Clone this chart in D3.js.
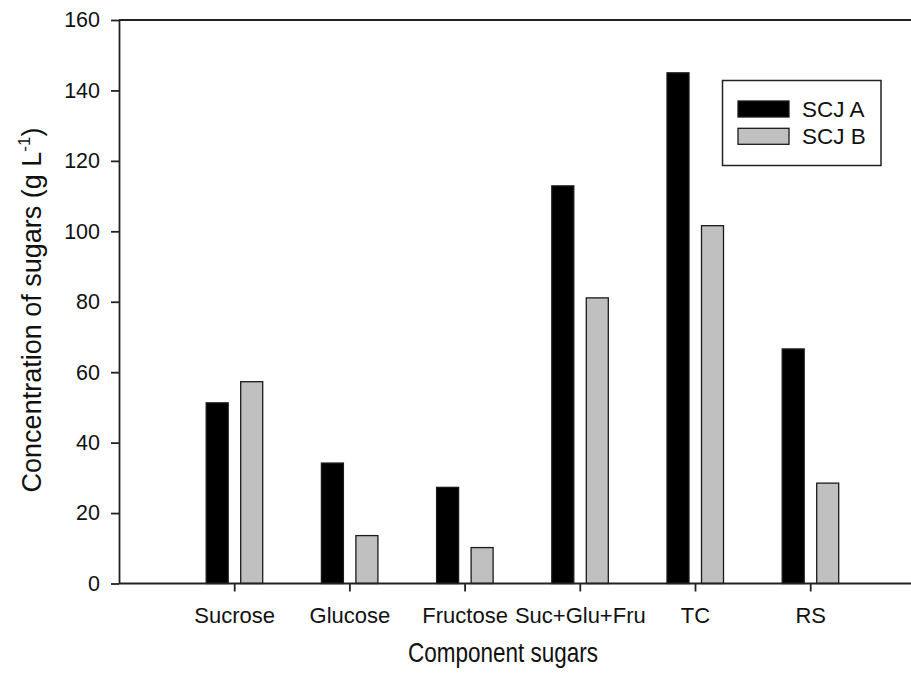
<!DOCTYPE html>
<html>
<head>
<meta charset="utf-8">
<script src="https://cdn.jsdelivr.net/npm/d3@7"></script>
<style>
  html, body { margin: 0; padding: 0; background: #fff; }
  svg { display: block; }
  text { font-family: "Liberation Sans", Arial, sans-serif; fill: #111; }
</style>
</head>
<body>
<svg id="chart" width="911" height="676"></svg>
<script>
const categories = ["Sucrose", "Glucose", "Fructose", "Suc+Glu+Fru", "TC", "RS"];
const seriesNames = ["SCJ A", "SCJ B"];
const scjA = [51.3, 34.2, 27.3, 112.9, 145.0, 66.6];
const scjB = [57.3, 13.6, 10.2, 81.1, 101.6, 28.5];
const yTicks = [0, 20, 40, 60, 80, 100, 120, 140, 160];
const colors = ["#000000", "#c0c0c0"];

(function () {
const svg = d3.select("#chart");
const mLeft = 119, mRight = 911, mTop = 20, mBottom = 583.5;
const step = 115.2;

const x = d3.scalePoint().domain(categories).range([mLeft + step, mLeft + step * 6]);
const y = d3.scaleLinear().domain([0, 160]).range([mBottom, mTop]);

const lineColor = "#222";
const fontFam = "Liberation Sans, Arial, sans-serif";

// bars
const offsets = [-17, 17.5];
const barW = 22;
const series = [scjA, scjB];
series.forEach((vals, si) => {
  svg.append("g").selectAll("rect").data(vals).join("rect")
    .attr("x", (d, i) => x(categories[i]) + offsets[si] - barW / 2)
    .attr("y", d => y(d))
    .attr("width", barW)
    .attr("height", d => y(0) - y(d))
    .attr("fill", colors[si])
    .attr("stroke", "#1a1a1a")
    .attr("stroke-width", 1.3);
});

// top frame line
svg.append("line").attr("x1", mLeft).attr("x2", mRight).attr("y1", y(160)).attr("y2", y(160))
  .attr("stroke", lineColor).attr("stroke-width", 1.8);

// y axis
const gy = svg.append("g").attr("transform", `translate(${mLeft},0)`)
  .call(d3.axisLeft(y).tickValues(yTicks).tickSize(8).tickSizeOuter(0).tickPadding(11));
gy.selectAll("path, line").attr("stroke", lineColor).attr("stroke-width", 1.8);
gy.selectAll("text").attr("font-size", 21.5).attr("font-family", fontFam).attr("fill", "#111");

// x axis
const gx = svg.append("g").attr("transform", `translate(0,${mBottom})`)
  .call(d3.axisBottom(x).tickSize(8).tickSizeOuter(0).tickPadding(16));
gx.select(".domain").attr("d", `M${mLeft},0H${mRight}`);
gx.selectAll("path, line").attr("stroke", lineColor).attr("stroke-width", 1.8);
gx.selectAll("text").attr("font-size", 22).attr("font-family", fontFam).attr("fill", "#111");

// axis titles
svg.append("text").attr("transform", "translate(503,662) scale(1,1.22)")
  .attr("text-anchor", "middle").attr("font-size", 22.5).text("Component sugars");

const yt = svg.append("text").attr("transform", `translate(41,310) rotate(-90)`)
  .attr("text-anchor", "middle").attr("font-size", 27);
yt.append("tspan").text("Concentration of sugars (g L");
yt.append("tspan").attr("font-size", 17).attr("dy", -11).text("-1");
yt.append("tspan").attr("dy", 11).text(")");

// legend
const lg = svg.append("g");
lg.append("rect").attr("x", 722.5).attr("y", 80.5).attr("width", 158.5).attr("height", 85)
  .attr("fill", "#fff").attr("stroke", lineColor).attr("stroke-width", 1.5);
seriesNames.forEach((name, i) => {
  lg.append("rect").attr("x", 738).attr("y", 101 + i * 27.3).attr("width", 51).attr("height", 16)
    .attr("fill", colors[i]).attr("stroke", "#1a1a1a").attr("stroke-width", 1.3);
  lg.append("text").attr("x", 802).attr("y", 109 + i * 27.3).attr("dy", "0.36em")
    .attr("font-size", 22.5).text(name);
});
})();
</script>
</body>
</html>
